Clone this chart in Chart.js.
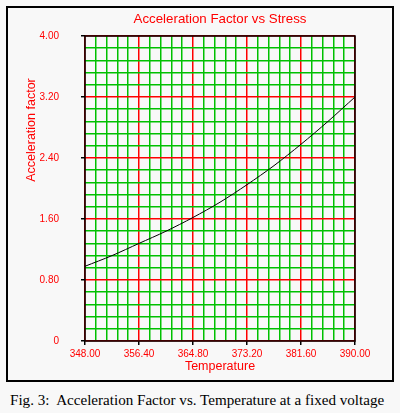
<!DOCTYPE html>
<html><head><meta charset="utf-8">
<script src="https://cdn.jsdelivr.net/npm/chart.js@4"></script>
<style>
body{margin:0;background:#f8f8f8;width:400px;height:413px;position:relative;overflow:hidden}
#frame{position:absolute;width:384px;height:372px;border:2px solid #000;box-sizing:content-box;left:6px;top:6px}
#wrap{position:absolute;left:8px;top:8px;width:384px;height:372px}
#cap{position:absolute;left:10px;top:392px;font-family:"Liberation Serif","DejaVu Serif",serif;font-size:15.1px;color:#000;white-space:pre}
</style></head><body>
<div id="frame"></div>
<div id="wrap"><canvas id="c" width="384" height="372"></canvas></div>
<div id="cap">Fig. 3:  Acceleration Factor vs. Temperature at a fixed voltage</div>
<script>
const temperature=[348,352.2,356.4,360.6,364.8,369,373.2,377.4,381.6,385.8,390];
const accelFactor=[0.98,1.12,1.28,1.44,1.62,1.82,2.05,2.30,2.58,2.88,3.20];
const xTicks=[348,356.4,364.8,373.2,381.6,390];
const yTicks=[0,0.8,1.6,2.4,3.2,4.0];
const titleText='Acceleration Factor vs Stress';
const xTitle='Temperature', yTitle='Acceleration factor';
function withMinor(major){const t=[];for(let i=0;i<major.length;i++){t.push(major[i]);if(i<major.length-1){const s=(major[i+1]-major[i])/5;for(let k=1;k<5;k++)t.push(major[i]+s*k);}}return t.map(v=>({value:v}));}
const isMajor=(i)=>i%5===0;
const red='#ff0000', green='#00c000';
const deco={id:'deco',afterDraw(ch){const c=ch.ctx,a=ch.chartArea;c.save();
c.strokeStyle='#000';c.lineWidth=1.5;c.strokeRect(a.left,a.top,a.right-a.left,a.bottom-a.top);
c.fillStyle=red;c.textAlign='center';c.textBaseline='middle';
c.font='13.3px "Liberation Sans",Arial,sans-serif';
c.fillText(titleText,(a.left+a.right)/2,11);
c.font='12.5px "Liberation Sans",Arial,sans-serif';
c.fillText(xTitle,(a.left+a.right)/2,359);
c.translate(24,122);c.rotate(-Math.PI/2);c.fillText(yTitle,0,0);c.restore();}};
new Chart(document.getElementById('c'),{type:'line',
data:{datasets:[{data:temperature.map((x,i)=>({x,y:accelFactor[i]})),borderColor:'#000',borderWidth:1,pointRadius:0,tension:0.3,fill:false}]},
options:{responsive:false,animation:false,layout:{padding:{top:26,right:37}},
plugins:{legend:{display:false},tooltip:{enabled:false}},
scales:{
x:{type:'linear',min:348,max:390,afterBuildTicks:s=>{s.ticks=withMinor(xTicks)},afterFit:s=>{s.height=39},
 border:{display:false},
 grid:{color:c=>isMajor(c.index)?red:green,lineWidth:1.5,tickLength:4,tickColor:c=>isMajor(c.index)?'#000':'rgba(0,0,0,0)'},
 ticks:{autoSkip:false,maxRotation:0,color:red,font:{size:10,family:'"Liberation Sans",Arial'},padding:3,callback:(v,i)=>isMajor(i)?v.toFixed(2):''}},
y:{type:'linear',min:0,max:4,afterBuildTicks:s=>{s.ticks=withMinor(yTicks)},afterFit:s=>{s.width=77},
 border:{display:false},
 grid:{color:c=>isMajor(c.index)?red:green,lineWidth:1.5,tickLength:4,tickColor:c=>isMajor(c.index)?'#000':'rgba(0,0,0,0)'},
 ticks:{autoSkip:false,color:red,font:{size:10,family:'"Liberation Sans",Arial'},padding:22,callback:(v,i)=>isMajor(i)?(v===0?'0':v.toFixed(2)):''}}
}},plugins:[deco]});
</script></body></html>
